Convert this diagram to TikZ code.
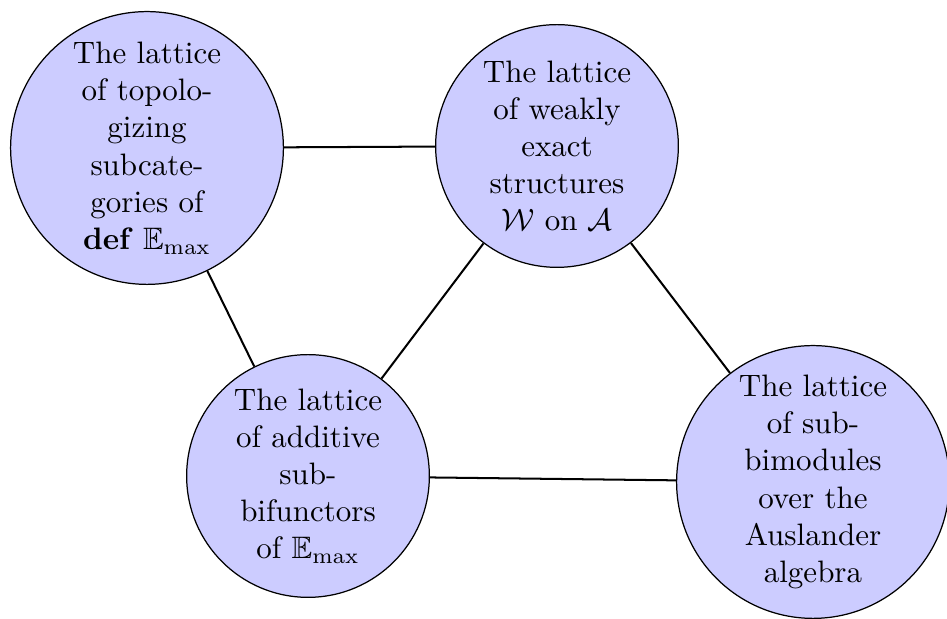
\documentclass[tikz,border=0pt]{standalone}
\usepackage{amsmath,amssymb}
\begin{document}
\begin{tikzpicture}[x=0.32258pt,y=-0.32258pt,
  lat/.style={circle,draw=black,fill=blue!20,align=center,inner sep=0pt,line width=0.4pt},
  big/.style={lat,minimum size=88pt},
  small/.style={lat,minimum size=78.3pt},
  link/.style={line width=0.65pt}]
\useasboundingbox (0,0) rectangle (947,619);
\node[big] (topo) at (147,148) {The lattice\\of topolo-\\gizing\\subcate-\\gories of\\\textbf{def} $\mathbb{E}_{\max}$};
\node[small] (weak) at (557,146) {The lattice\\of weakly\\exact\\structures\\$\mathcal{W}$ on $\mathcal{A}$};
\node[small] (add) at (308,476) {The lattice\\of additive\\sub-\\bifunctors\\of $\mathbb{E}_{\max}$};
\node[big] (bimod) at (813,482) {The lattice\\of sub-\\bimodules\\over the\\Auslander\\algebra};
\draw[link] (topo) -- (weak);
\draw[link] (topo) -- (add);
\draw[link] (weak) -- (add);
\draw[link] (weak) -- (bimod);
\draw[link] (add) -- (bimod);
\end{tikzpicture}
\end{document}
